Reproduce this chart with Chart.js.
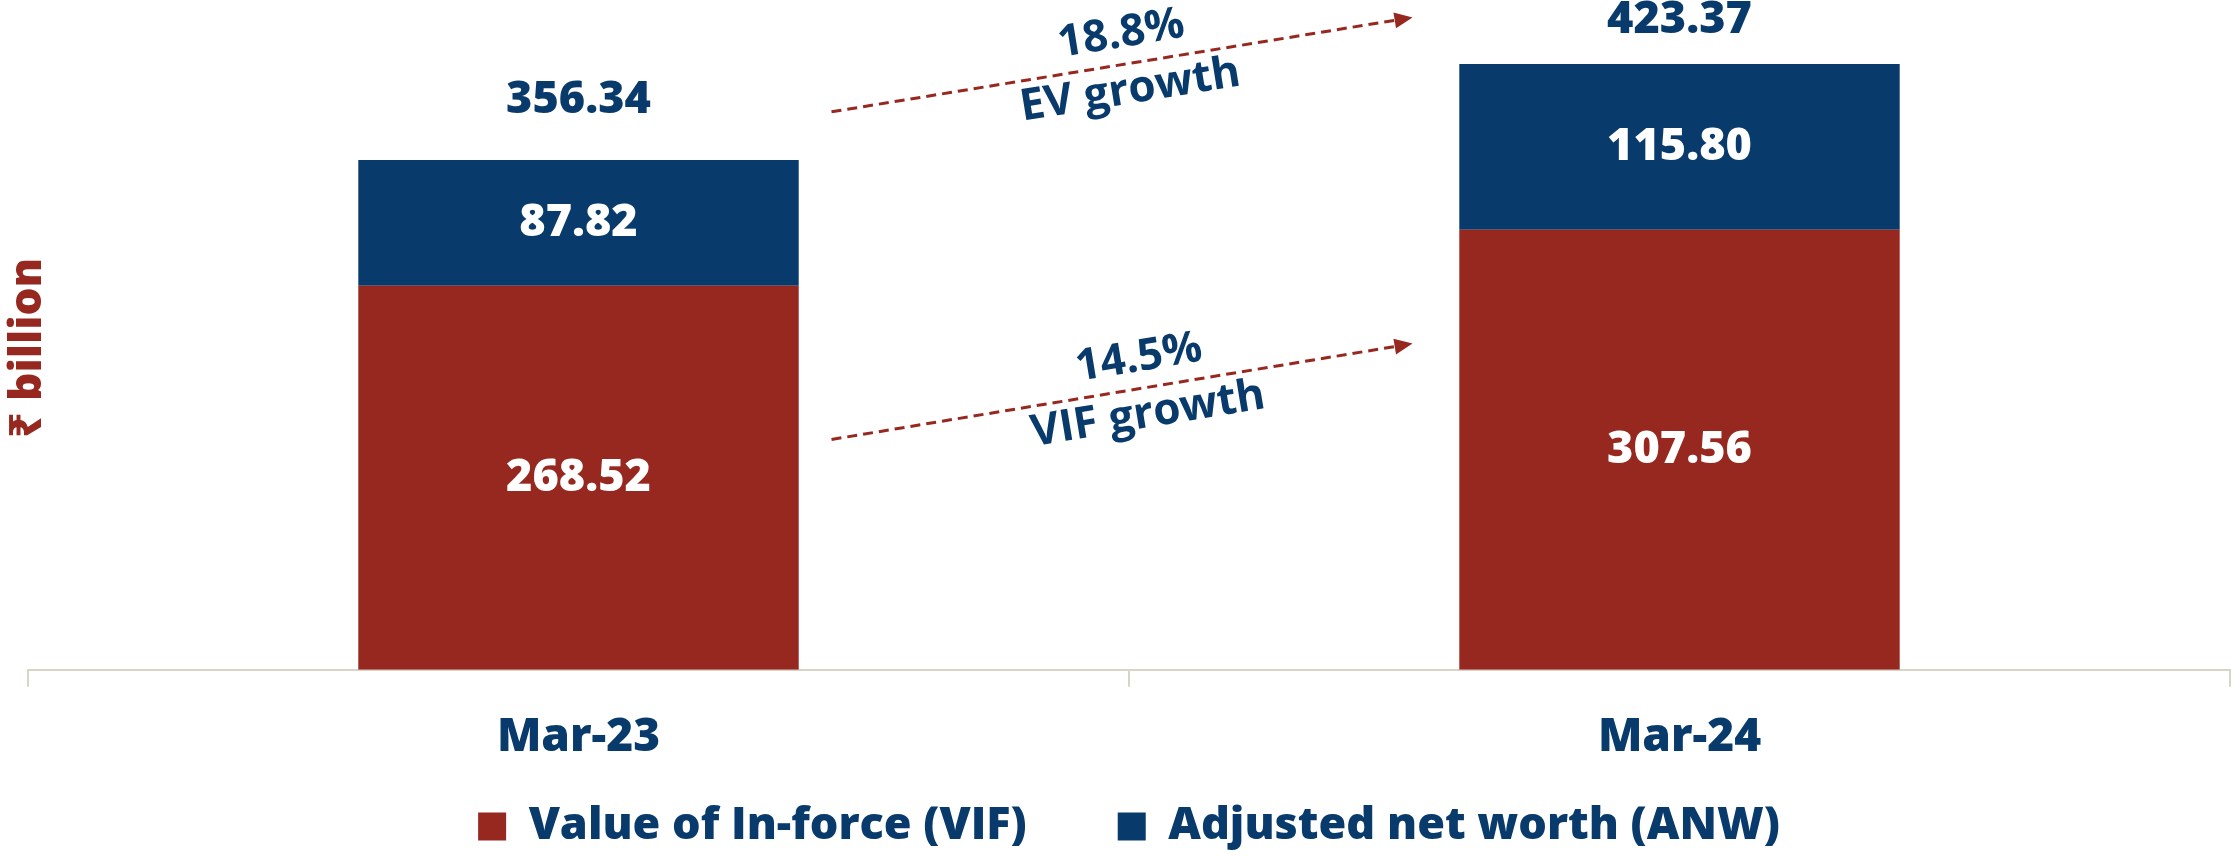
<!DOCTYPE html>
<html>
<head>
<meta charset="utf-8">
<script src="https://cdn.jsdelivr.net/npm/chart.js@4.4.1/dist/chart.umd.min.js"></script>
<style>
  html, body { margin: 0; padding: 0; background: #fff; }
  #wrap { width: 2234px; height: 857px; }
</style>
</head>
<body>
<div id="wrap"><canvas id="ev-chart"></canvas></div>
<script>
const categories = ['Mar-23', 'Mar-24'];
const vifValues = [268.52, 307.56];
const anwValues = [87.82, 115.80];
const totals = [356.34, 423.37];
const growthNotes = [
  { top: '18.8%', bottom: 'EV growth', from: 390, to: 456, shift: 4 },
  { top: '14.5%', bottom: 'VIF growth', from: 161, to: 228, shift: 22 }
];

const RED = '#962820';
const NAVY = '#083A6B';
const MAIN_FONT = '"Open Sans", "Noto Sans", sans-serif';
const WEIGHT = '800';

const barLabels = {
  id: 'barLabels',
  afterDatasetsDraw(chart) {
    const ctx = chart.ctx;
    ctx.save();
    ctx.textAlign = 'center';
    ctx.textBaseline = 'middle';
    ctx.font = WEIGHT + ' 45px ' + MAIN_FONT;
    ctx.fillStyle = '#fff';
    chart.data.datasets.forEach((ds, i) => {
      chart.getDatasetMeta(i).data.forEach((bar, j) => {
        const mid = (bar.y + bar.base) / 2;
        ctx.fillText(ds.data[j].toFixed(2), bar.x, mid);
      });
    });
    const yScale = chart.scales.y;
    ctx.fillStyle = NAVY;
    chart.getDatasetMeta(0).data.forEach((bar, j) => {
      const ty = Math.max(yScale.getPixelForValue(totals[j]) - 60, 20);
      ctx.fillText(totals[j].toFixed(2), bar.x, ty);
    });
    ctx.restore();
  }
};

const growthArrows = {
  id: 'growthArrows',
  afterDraw(chart) {
    const ctx = chart.ctx;
    const x = chart.scales.x;
    const y = chart.scales.y;
    const x0 = x.getPixelForValue(0) + 253;
    const x1 = x.getPixelForValue(1) - 267;
    growthNotes.forEach(note => {
      const y0 = y.getPixelForValue(note.from);
      const y1 = y.getPixelForValue(note.to);
      const angle = Math.atan2(y1 - y0, x1 - x0);
      ctx.save();
      ctx.strokeStyle = RED;
      ctx.fillStyle = RED;
      ctx.lineWidth = 3;
      ctx.setLineDash([10, 6]);
      ctx.beginPath();
      ctx.moveTo(x0, y0);
      ctx.lineTo(x1 - 16 * Math.cos(angle), y1 - 16 * Math.sin(angle));
      ctx.stroke();
      ctx.setLineDash([]);
      ctx.translate(x1, y1);
      ctx.rotate(angle);
      ctx.beginPath();
      ctx.moveTo(0, 0);
      ctx.lineTo(-18, -8);
      ctx.lineTo(-18, 8);
      ctx.closePath();
      ctx.fill();
      ctx.restore();

      ctx.save();
      ctx.translate((x0 + x1) / 2, (y0 + y1) / 2);
      ctx.rotate(angle);
      ctx.fillStyle = NAVY;
      ctx.textAlign = 'center';
      ctx.textBaseline = 'middle';
      ctx.font = 'bold 44px "Open Sans", sans-serif';
      ctx.fillText(note.top, note.shift, -30);
      ctx.fillText(note.bottom, note.shift, 27);
      ctx.restore();
    });
  }
};

const yTitle = {
  id: 'yTitle',
  afterDraw(chart) {
    const ctx = chart.ctx;
    const area = chart.chartArea;
    ctx.save();
    ctx.translate(area.left, (area.top + area.bottom) / 2);
    ctx.rotate(-Math.PI / 2);
    ctx.fillStyle = RED;
    ctx.textAlign = 'center';
    ctx.textBaseline = 'middle';
    ctx.font = WEIGHT + ' 44px ' + MAIN_FONT;
    ctx.fillText('₹ billion', 0, 0);
    ctx.restore();
  }
};

new Chart(document.getElementById('ev-chart'), {
  type: 'bar',
  data: {
    labels: categories,
    datasets: [
      {
        label: 'Value of In-force (VIF)',
        data: vifValues,
        backgroundColor: RED,
        barPercentage: 0.4,
        categoryPercentage: 1
      },
      {
        label: 'Adjusted net worth (ANW)',
        data: anwValues,
        backgroundColor: NAVY,
        barPercentage: 0.4,
        categoryPercentage: 1
      }
    ]
  },
  options: {
    responsive: true,
    maintainAspectRatio: false,
    animation: false,
    layout: { padding: { left: 28, right: 4, top: 26, bottom: -2 } },
    scales: {
      x: {
        stacked: true,
        grid: {
          offset: true,
          drawOnChartArea: false,
          tickLength: 17,
          color: '#D9D5C6',
          lineWidth: 2
        },
        border: { color: '#D9D5C6', width: 2 },
        ticks: {
          color: NAVY,
          padding: 23,
          font: { family: MAIN_FONT, size: 46, weight: WEIGHT }
        }
      },
      y: {
        stacked: true,
        display: false,
        min: 0,
        max: 450
      }
    },
    plugins: {
      legend: {
        position: 'bottom',
        labels: {
          color: NAVY,
          boxWidth: 28,
          boxHeight: 28,
          padding: 16,
          font: { family: MAIN_FONT, size: 45, weight: WEIGHT },
          generateLabels(chart) {
            const items = Chart.defaults.plugins.legend.labels.generateLabels(chart);
            // widen the gap between the two entries like the original
            items[0].text += '\u2003\u2002\u2009';
            return items;
          }
        }
      },
      tooltip: { enabled: false }
    }
  },
  plugins: [barLabels, growthArrows, yTitle]
});
</script>
</body>
</html>
